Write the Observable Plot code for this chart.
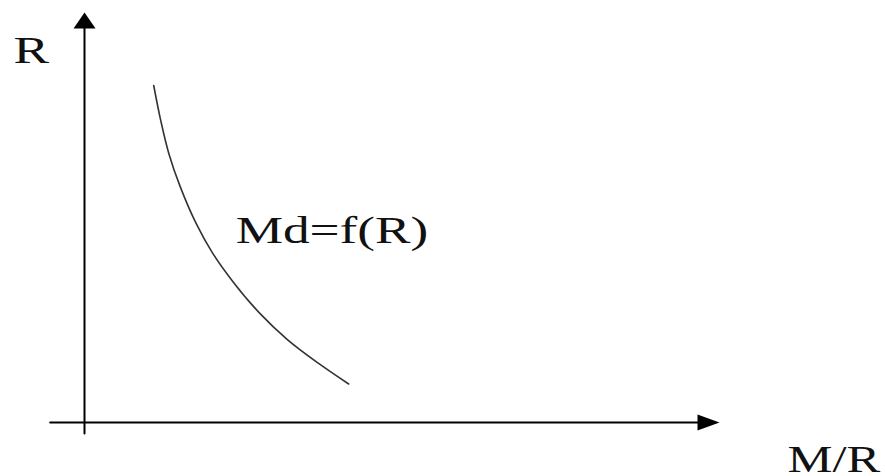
<!DOCTYPE html>
<html>
<head>
<meta charset="utf-8">
<script src="https://cdn.jsdelivr.net/npm/d3@7"></script>
<script src="https://cdn.jsdelivr.net/npm/@observablehq/plot@0.6"></script>
<style>
  html, body { margin: 0; padding: 0; background: #fff; }
  #chart svg { display: block; }
</style>
</head>
<body>
<div id="chart"></div>
<script>
// Curve Md = f(R) (x = M/R, y = R, arbitrary units)
const curveX = [1.09, 1.20, 1.33, 1.51, 1.75, 2.01, 2.35, 2.75, 3.19, 3.67, 4.16];
const curveY = [8.22, 7.37, 6.55, 5.74, 4.88, 4.15, 3.41, 2.68, 2.03, 1.46, 0.94];

// Axis extents (data units)
const xAxisRange = [-0.54, 10];
const yAxisRange = [-0.27, 10];

// Labels
const labelTexts = ["R", "M/R", "Md=f(R)"];
const labelX = [-1.12, 11.07, 2.38];
const labelY = [8.78, -1.2, 4.37];

const curve = curveX.map((x, i) => ({x, y: curveY[i]}));
const labels = labelTexts.map((t, i) => ({t, x: labelX[i], y: labelY[i]}));

// Filled arrowhead symbols, tip at the origin, pointing up
const headX = { draw(ctx) { ctx.moveTo(0, 0); ctx.lineTo(-8, 22); ctx.lineTo(8, 22); ctx.closePath(); } };
const headY = { draw(ctx) { ctx.moveTo(0, 0); ctx.lineTo(-11, 16); ctx.lineTo(11, 16); ctx.closePath(); } };

const plot = Plot.plot({
  width: 885,
  height: 476,
  marginLeft: 84,
  marginRight: 166,
  marginTop: 12,
  marginBottom: 54,
  x: {domain: [0, 10], axis: null},
  y: {domain: [0, 10], axis: null},
  style: {fontFamily: "Liberation Serif", background: "#fff", overflow: "visible"},
  marks: [
    // x axis
    Plot.line([{x: xAxisRange[0], y: 0}, {x: xAxisRange[1] - 0.3, y: 0}], {x: "x", y: "y", stroke: "#000", strokeWidth: 2}),
    Plot.dot([{x: xAxisRange[1], y: 0}], {x: "x", y: "y", symbol: headX, rotate: 90, fill: "#000", stroke: "none", r: 5}),
    // y axis
    Plot.line([{x: 0, y: yAxisRange[0]}, {x: 0, y: yAxisRange[1] - 0.3}], {x: "x", y: "y", stroke: "#000", strokeWidth: 2}),
    Plot.dot([{x: 0, y: yAxisRange[1]}], {x: "x", y: "y", symbol: headY, rotate: 0, fill: "#000", stroke: "none", r: 5}),
    // curve
    Plot.line(curve, {x: "x", y: "y", curve: "catmull-rom", stroke: "#333", strokeWidth: 1.6}),
    // labels
    Plot.text(labels, {x: "x", y: "y", text: "t", textAnchor: "start", lineAnchor: "bottom",
      fontSize: 38, fill: "#111", fontFamily: "Liberation Serif"})
  ]
});

document.getElementById("chart").appendChild(plot);

// Horizontal stretch of the label glyphs, as in the picture
d3.select(plot).selectAll("text").each(function () {
  const w = this.getComputedTextLength();
  const s = this.textContent === "M/R" ? 1.33 : 1.4;
  d3.select(this).attr("textLength", w * s).attr("lengthAdjust", "spacingAndGlyphs");
});
</script>
</body>
</html>
